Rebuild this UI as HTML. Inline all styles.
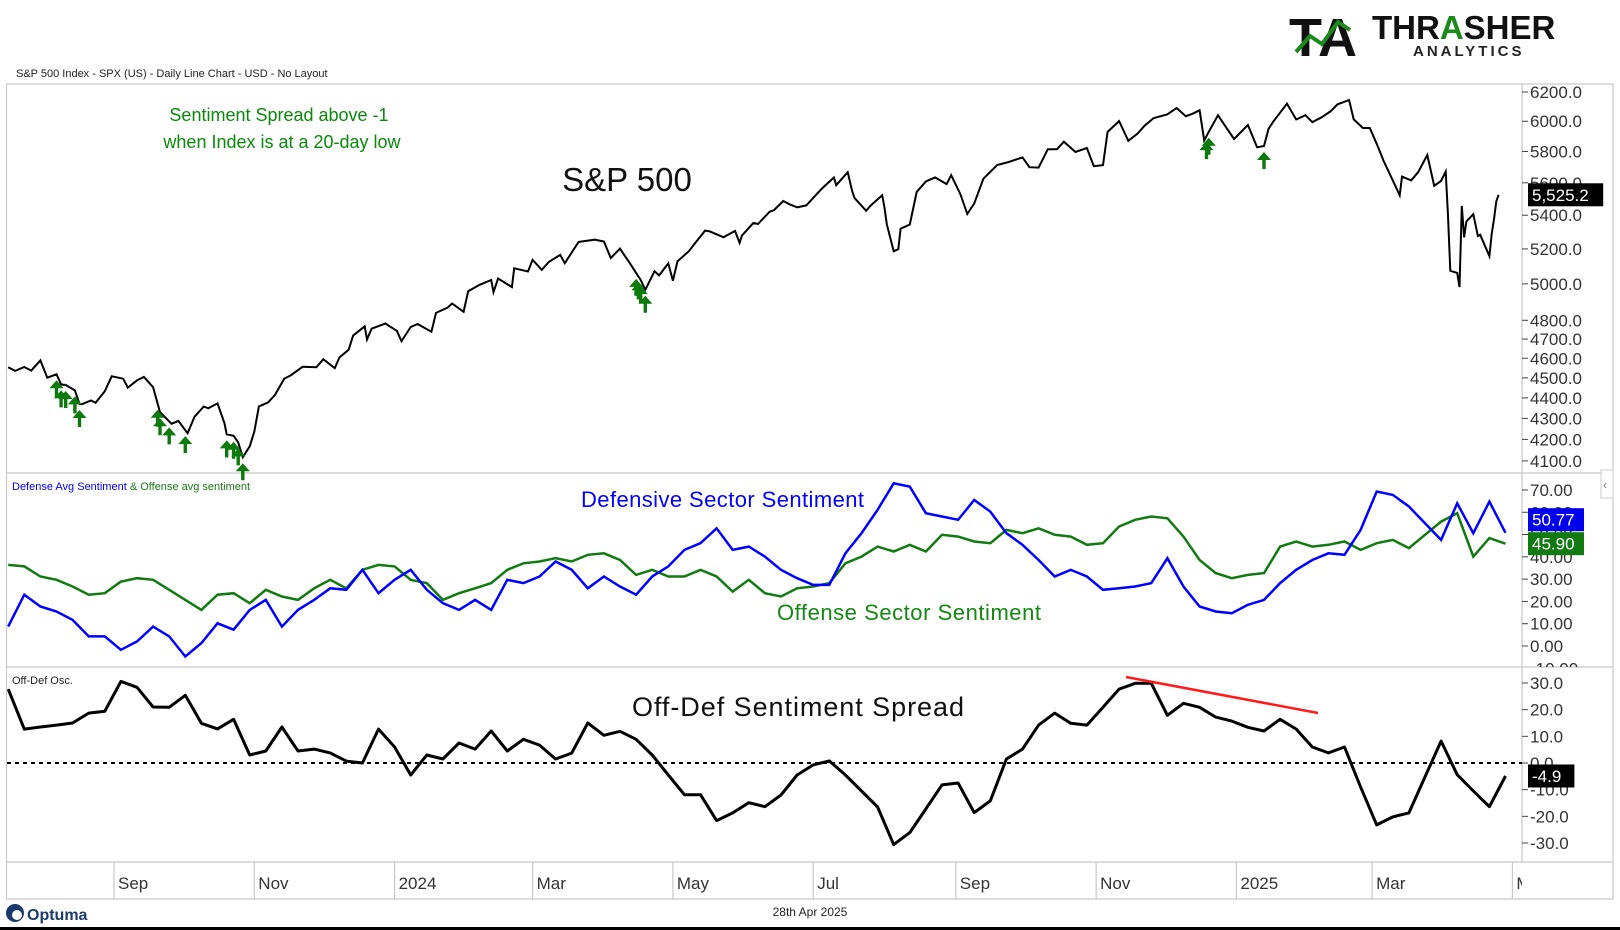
<!DOCTYPE html>
<html><head><meta charset="utf-8"><title>SPX sentiment</title>
<style>
html,body{margin:0;padding:0;background:#fff;}
svg{display:block;font-family:"Liberation Sans",sans-serif;}
</style></head>
<body>
<svg id="chart" width="1620" height="930" viewBox="0 0 1620 930" xmlns="http://www.w3.org/2000/svg">
<defs>
<clipPath id="cp1"><rect x="7" y="84" width="1515" height="389"/></clipPath>
<clipPath id="cp2"><rect x="7" y="473" width="1515" height="194"/></clipPath>
<clipPath id="cp3"><rect x="7" y="667" width="1515" height="195"/></clipPath>
<clipPath id="ca1"><rect x="1522" y="84" width="91" height="389"/></clipPath>
<clipPath id="ca2"><rect x="1522" y="473" width="91" height="194"/></clipPath>
<clipPath id="ca3"><rect x="1522" y="667" width="91" height="195"/></clipPath>
<clipPath id="cdate"><rect x="7" y="862" width="1515" height="37"/></clipPath>
</defs>
<g>
<text x="1289" y="56" font-size="54" font-weight="bold" fill="#111">TA</text>
<polyline points="1296,52 1310,36 1322,44 1338,22 1350,30" fill="none" stroke="#1b8a1b" stroke-width="4"/>
<text x="1372" y="39" font-size="33" font-weight="bold" fill="#111">THR<tspan fill="#1b8a1b">A</tspan>SHER</text>
<text x="1413" y="56" font-size="15" font-weight="bold" fill="#222" letter-spacing="3">ANALYTICS</text>
</g>
<text x="16" y="77" font-size="11" fill="#222">S&amp;P 500 Index - SPX (US) - Daily Line Chart - USD - No Layout</text>
<g id="frame" stroke="#c8c8c8" stroke-width="1.2" fill="none">
<rect x="6.5" y="84" width="1606.5" height="815"/>
<line x1="6.5" y1="473" x2="1613" y2="473"/>
<line x1="6.5" y1="667" x2="1613" y2="667"/>
<line x1="6.5" y1="862" x2="1613" y2="862"/>
<line x1="1522" y1="84" x2="1522" y2="862"/>
</g>
<g id="plots"></g>
<text x="279" y="121" font-size="18" fill="#0a8a0a" text-anchor="middle">Sentiment Spread above -1</text>
<text x="282" y="148" font-size="18" fill="#0a8a0a" text-anchor="middle">when Index is at a 20-day low</text>
<text x="627" y="191" font-size="33" fill="#111" text-anchor="middle">S&amp;P 500</text>
<text x="12" y="490" font-size="11" fill="#0000ee">Defense Avg Sentiment <tspan fill="#1a7a1a">&amp; Offense avg sentiment</tspan></text>
<text x="581" y="507" font-size="22" fill="#0000ff" textLength="283">Defensive Sector Sentiment</text>
<text x="777" y="620" font-size="22" fill="#118811" textLength="264">Offense Sector Sentiment</text>
<text x="12" y="684" font-size="11" fill="#222">Off-Def Osc.</text>
<text x="798" y="716" font-size="27" fill="#111" text-anchor="middle" textLength="332">Off-Def Sentiment Spread</text>
<line x1="1126" y1="677" x2="1318" y2="713" stroke="#ff1a1a" stroke-width="2.5"/>
<rect x="1601" y="470" width="12" height="28" fill="#fff" stroke="#ccc"/>
<text x="1603" y="489" font-size="12" fill="#777">‹</text>
<g>
<circle cx="15" cy="913" r="9" fill="#1a3a6b"/>
<circle cx="17" cy="915" r="5" fill="#fff"/>
<text x="27" y="920" font-size="16" font-weight="bold" fill="#1a3a6b">Optuma</text>
</g>
<text x="810" y="916" font-size="12" fill="#222" text-anchor="middle">28th Apr 2025</text>
<rect x="0" y="927" width="1620" height="3" fill="#000"/>
</svg>
<script>
const spxDates = ["2023-07-17","2023-07-20","2023-07-24","2023-07-27","2023-07-31","2023-08-03","2023-08-07","2023-08-09","2023-08-11","2023-08-15","2023-08-17","2023-08-18","2023-08-22","2023-08-24","2023-08-28","2023-08-31","2023-09-05","2023-09-07","2023-09-11","2023-09-14","2023-09-18","2023-09-21","2023-09-22","2023-09-26","2023-09-29","2023-10-03","2023-10-06","2023-10-10","2023-10-12","2023-10-16","2023-10-19","2023-10-20","2023-10-23","2023-10-25","2023-10-27","2023-10-30","2023-11-01","2023-11-03","2023-11-07","2023-11-10","2023-11-14","2023-11-17","2023-11-22","2023-11-28","2023-12-01","2023-12-06","2023-12-08","2023-12-12","2023-12-14","2023-12-19","2023-12-20","2023-12-22","2023-12-28","2024-01-02","2024-01-04","2024-01-08","2024-01-11","2024-01-17","2024-01-19","2024-01-24","2024-01-26","2024-01-31","2024-02-02","2024-02-07","2024-02-12","2024-02-13","2024-02-15","2024-02-21","2024-02-22","2024-02-28","2024-03-01","2024-03-05","2024-03-08","2024-03-13","2024-03-15","2024-03-21","2024-03-28","2024-04-01","2024-04-04","2024-04-08","2024-04-10","2024-04-12","2024-04-15","2024-04-17","2024-04-19","2024-04-23","2024-04-25","2024-04-29","2024-05-01","2024-05-03","2024-05-08","2024-05-10","2024-05-15","2024-05-17","2024-05-23","2024-05-28","2024-05-30","2024-05-31","2024-06-05","2024-06-07","2024-06-12","2024-06-14","2024-06-18","2024-06-21","2024-06-24","2024-06-28","2024-07-03","2024-07-05","2024-07-10","2024-07-11","2024-07-16","2024-07-18","2024-07-19","2024-07-24","2024-07-26","2024-07-31","2024-08-01","2024-08-02","2024-08-05","2024-08-07","2024-08-08","2024-08-12","2024-08-15","2024-08-19","2024-08-23","2024-08-28","2024-08-30","2024-09-03","2024-09-06","2024-09-09","2024-09-13","2024-09-19","2024-09-24","2024-09-30","2024-10-03","2024-10-07","2024-10-11","2024-10-15","2024-10-18","2024-10-23","2024-10-28","2024-10-31","2024-11-04","2024-11-06","2024-11-11","2024-11-15","2024-11-19","2024-11-22","2024-11-26","2024-12-02","2024-12-06","2024-12-10","2024-12-13","2024-12-16","2024-12-18","2024-12-20","2024-12-24","2024-12-27","2024-12-31","2025-01-06","2025-01-10","2025-01-13","2025-01-15","2025-01-17","2025-01-23","2025-01-27","2025-01-31","2025-02-03","2025-02-07","2025-02-11","2025-02-14","2025-02-19","2025-02-21","2025-02-25","2025-02-28","2025-03-03","2025-03-06","2025-03-10","2025-03-13","2025-03-14","2025-03-18","2025-03-21","2025-03-25","2025-03-28","2025-03-31","2025-04-02","2025-04-03","2025-04-04","2025-04-07","2025-04-08","2025-04-09","2025-04-10","2025-04-11","2025-04-14","2025-04-16","2025-04-17","2025-04-21","2025-04-22","2025-04-23","2025-04-24","2025-04-25"];
const spxClose = [4554,4535,4555,4537,4589,4501,4518,4467,4464,4437,4370,4369,4387,4376,4433,4508,4496,4451,4487,4505,4453,4330,4320,4274,4288,4229,4308,4358,4349,4373,4278,4224,4217,4186,4117,4167,4237,4358,4378,4415,4496,4514,4556,4554,4595,4549,4604,4644,4719,4768,4698,4755,4783,4743,4689,4764,4780,4739,4840,4868,4891,4846,4959,4995,5022,4954,5030,4982,5088,5070,5137,5079,5124,5165,5117,5241,5254,5243,5147,5202,5161,5123,5062,5022,4967,5071,5048,5116,5018,5128,5187,5223,5308,5303,5268,5306,5235,5278,5354,5347,5421,5432,5487,5465,5448,5460,5537,5567,5633,5585,5667,5545,5505,5427,5459,5522,5446,5346,5186,5199,5319,5344,5543,5608,5634,5592,5648,5529,5408,5471,5626,5713,5732,5762,5699,5696,5815,5815,5864,5797,5823,5705,5712,5929,6001,5870,5917,5969,6021,6047,6090,6034,6051,6074,5872,5930,6040,5971,5882,5975,5827,5836,5950,5997,6119,6012,6041,5994,6026,6068,6115,6144,6013,5955,5955,5850,5739,5615,5522,5639,5615,5667,5777,5581,5612,5671,5397,5074,5062,4982,5457,5268,5363,5406,5276,5283,5158,5288,5376,5485,5525.2];
const signalDates = ["2023-08-07","2023-08-09","2023-08-11","2023-08-15","2023-08-17","2023-09-20","2023-09-21","2023-09-25","2023-10-02","2023-10-20","2023-10-23","2023-10-25","2023-10-27","2024-04-15","2024-04-16","2024-04-17","2024-04-19","2024-12-19","2024-12-20","2025-01-13"];
const weekStart = "2023-07-17";
const defenseValues = [8.7,23,17.7,15.5,11.7,4.3,4.3,-1.7,2,8.7,4.3,-4.7,1.3,10.2,7.3,16.2,20.7,8.7,16.2,20.7,25.9,25.2,34.2,23.7,29.7,34.2,25.2,19.2,16.2,20.7,16.2,29.7,28.2,31.2,37.9,34.2,25.9,31.2,26.7,23,31.2,35.7,43.1,46.1,52.8,43.1,44.6,40.1,34.2,30.4,27.4,27.4,41.6,50.6,61.1,73,71.5,59.6,58.1,56.6,65.5,60.3,50.6,45.4,38.6,31.2,34.2,31.2,25.2,25.9,26.7,28.2,39.4,26.7,17.7,15.5,14.7,18.5,20.7,28.2,34.2,38.6,41.6,40.9,52.1,69.3,67.8,62.6,55.1,47.6,64,50.6,64.8,50.77];
const offenseValues = [36.4,35.7,31.2,29.7,26.7,23,23.7,28.9,30.4,29.7,25.2,20.7,16.2,23,23.7,19.2,25.2,22.2,20.7,25.9,29.7,25.9,34.2,36.4,35.7,29.7,28.2,20.7,23.7,25.9,28.2,34.2,37.1,37.9,39.4,37.9,40.9,41.6,38.6,31.9,34.2,31.2,31.2,34.2,31.2,24.4,29.7,23.7,22.2,25.9,26.7,28.2,37.1,40.1,44.6,42.4,45.4,42.4,49.9,49.1,46.9,46.1,52.1,50.6,52.8,49.9,49.1,45.4,46.1,53.6,56.6,58.1,57.3,49.1,38.6,32.7,30.4,31.9,32.7,44.6,46.9,44.6,45.4,46.9,43.1,46.1,47.6,43.9,49.9,55.8,59.6,40.1,48.4,45.9];
const priceTicks = [6200,6000,5800,5600,5400,5200,5000,4800,4700,4600,4500,4400,4300,4200,4100];
const sentTicks = [70,60,50,40,30,20,10,0,-10];
const spreadTicks = [30,20,10,0,-10,-20,-30];
const monthLabels = ["Sep","Nov","2024","Mar","May","Jul","Sep","Nov","2025","Mar","May"];
const monthDates = ["2023-09-01","2023-11-01","2024-01-01","2024-03-01","2024-05-01","2024-07-01","2024-09-01","2024-11-01","2025-01-01","2025-03-01","2025-05-01"];

const NS = "http://www.w3.org/2000/svg";
const root = document.getElementById("plots");
const DAY = 86400000;
const t0 = Date.parse("2023-09-01");
function xOf(d){ return 114 + ((Date.parse(d) - t0)/DAY)*2.30; }
function yPrice(v){ return 92 + (Math.log(6200) - Math.log(v))*892; }
function ySent(v){ return 646 - v*2.229; }
function ySpread(v){ return 763 - v*2.667; }
function weekDate(i){ return new Date(Date.parse(weekStart) + i*7*DAY).toISOString().slice(0,10); }
function mk(tag, attrs, parent){
  const e = document.createElementNS(NS, tag);
  for (const k in attrs) e.setAttribute(k, attrs[k]);
  (parent||root).appendChild(e);
  return e;
}
function fmt(p){ return p.map(q=>q[0].toFixed(1)+","+q[1].toFixed(1)).join(" "); }

const pricePts = spxDates.map((d,i)=>[xOf(d), yPrice(spxClose[i])]);
const pl = mk("polyline",{points:fmt(pricePts),fill:"none",stroke:"#000","stroke-width":2,"clip-path":"url(#cp1)"});



function priceAt(d){
  const t = Date.parse(d);
  for (let i=1;i<spxDates.length;i++){
    const a = Date.parse(spxDates[i-1]), b = Date.parse(spxDates[i]);
    if (t<=b){ const f=(t-a)/(b-a); return spxClose[i-1]+(spxClose[i]-spxClose[i-1])*f; }
  }
  return spxClose[spxClose.length-1];
}
signalDates.forEach(d=>{
  const x = xOf(d), y = yPrice(priceAt(d)) + 6;
  const a = mk("path",{d:`M${x},${y} L${x+7},${y+8} L${x+1.7},${y+8} L${x+1.7},${y+17} L${x-1.7},${y+17} L${x-1.7},${y+8} L${x-7},${y+8} Z`,fill:"#0a7a0a"});
  
  
});

const offPts = offenseValues.map((v,i)=>[xOf(weekDate(i)), ySent(v)]);
const defPts = defenseValues.map((v,i)=>[xOf(weekDate(i)), ySent(v)]);
const ol = mk("polyline",{points:fmt(offPts),fill:"none",stroke:"#117a11","stroke-width":2.5,"stroke-linejoin":"miter","clip-path":"url(#cp2)"});


const dl = mk("polyline",{points:fmt(defPts),fill:"none",stroke:"#0000ff","stroke-width":2.5,"stroke-linejoin":"miter","clip-path":"url(#cp2)"});



const zl = mk("line",{x1:7,y1:ySpread(0),x2:1522,y2:ySpread(0),stroke:"#000","stroke-width":2,"stroke-dasharray":"4,4"});


const spPts = offenseValues.map((v,i)=>[xOf(weekDate(i)), ySpread(v - defenseValues[i])]);
const sl = mk("polyline",{points:fmt(spPts),fill:"none",stroke:"#000","stroke-width":3,"stroke-linejoin":"round","clip-path":"url(#cp3)"});



function axis(ticks, yf, fmtf, clip, name){
  const g = mk("g",{"clip-path":clip});
  
  
  ticks.forEach(v=>{
    const y = yf(v);
    mk("line",{x1:1522,y1:y,x2:1528,y2:y,stroke:"#444","stroke-width":1},g);
    const t = mk("text",{x:1530,y:y+6,"font-size":17,fill:"#333"},g);
    t.textContent = fmtf(v);
    
    
  });
}
axis(priceTicks, yPrice, v=>v.toFixed(1), "url(#ca1)", "price-axis");
axis(sentTicks, ySent, v=>v.toFixed(2), "url(#ca2)", "sentiment-axis");
axis(spreadTicks, ySpread, v=>v.toFixed(1), "url(#ca3)", "spread-axis");

const dg = mk("g",{"clip-path":"url(#cdate)"});


monthLabels.forEach((m,i)=>{
  const x = xOf(monthDates[i]);
  const ln = mk("line",{x1:x,y1:862,x2:x,y2:899,stroke:"#c8c8c8","stroke-width":1.2},dg);
  
  
  const t = mk("text",{x:x+4,y:889,"font-size":17,fill:"#333"},dg);
  t.textContent = m;
  
  
});

function box(y, txt, bg, name){
  const g = mk("g",{});
  
  
  const w = txt.length*9.6+8;
  mk("rect",{x:1528,y:y-11.5,width:w,height:23,fill:bg},g);
  const t = mk("text",{x:1532,y:y+6,"font-size":17,fill:"#fff"},g);
  t.textContent = txt;
}
const lastP = spxClose[spxClose.length-1];
box(yPrice(lastP), lastP.toLocaleString("en-US",{minimumFractionDigits:1,maximumFractionDigits:1}), "#000", "price-value-box");
const lastD = defenseValues[defenseValues.length-1], lastO = offenseValues[offenseValues.length-1];
box(Math.min(ySent(lastD), ySent(lastO)-24), lastD.toFixed(2), "#0000ee", "defense-value-box");
box(ySent(lastO), lastO.toFixed(2), "#117a11", "offense-value-box");
box(ySpread(lastO-lastD), (lastO-lastD).toFixed(1), "#000", "spread-value-box");
</script>
</body></html>
